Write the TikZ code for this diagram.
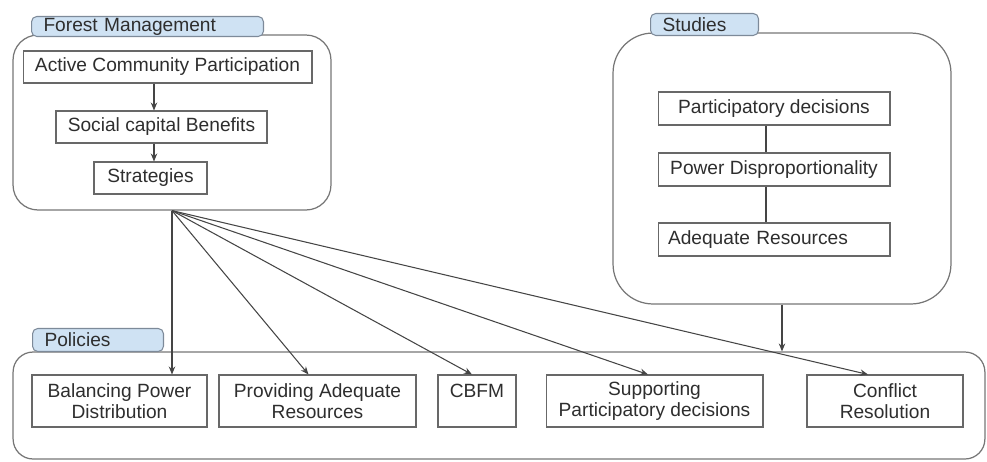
\documentclass[tikz,border=0pt]{standalone}
\usepackage{fontspec}
\setmainfont{Liberation Sans}
\usetikzlibrary{arrows.meta,positioning,calc}
\definecolor{cpestana}{HTML}{CFE2F3}
\definecolor{cpestanab}{HTML}{7D8A99}
\definecolor{cmarco}{HTML}{767676}
\definecolor{cborde}{HTML}{686868}
\definecolor{ctexto}{HTML}{2E2E2E}
\definecolor{cflecha}{HTML}{454545}
\tikzset{
  marco/.style={draw=cmarco,line width=0.7pt,fill=none},
  pestana/.style={draw=cpestanab,fill=cpestana,rounded corners=3pt,line width=0.6pt,
                  anchor=south west,inner xsep=0.24cm,inner ysep=0pt,align=left,
                  font=\fontsize{10.9}{12}\selectfont,text=ctexto},
  caja/.style={draw=cborde,fill=white,line width=0.6pt,align=center,inner sep=2pt,
               font=\fontsize{10.9}{11.6}\selectfont,text=ctexto},
  flecha/.style={-{Stealth[length=1.6mm,width=1.3mm]},draw=cflecha,line width=0.6pt},
  linea/.style={draw=cflecha,line width=0.6pt},
}
\begin{document}
\begin{tikzpicture}[x=0.02cm,y=-0.02cm]
\useasboundingbox (0,0) rectangle (987,461);

% contenedores
\node[marco,rounded corners=0.5cm,minimum width=6.36cm,minimum height=3.5cm] (fm) at (172,122.5) {};
\node[marco,rounded corners=0.8cm,minimum width=6.76cm,minimum height=5.42cm] (es) at (782,168.5) {};
\node[marco,rounded corners=0.4cm,minimum width=19.44cm,minimum height=2.14cm] (pol) at (499,405.5) {};

\node[pestana,text width=4.16cm,minimum height=0.4cm] (tfm) at (31,37) {Forest Management};
\node[pestana,text width=1.68cm,minimum height=0.44cm] (tes) at (650,36) {Studies};
\node[pestana,text width=2.14cm,minimum height=0.46cm] (tpol) at (32,352) {Policies};

% Forest Management
\node[caja,minimum width=5.78cm,minimum height=0.64cm] (acp) at (167.5,67) {Active Community Participation};
\node[caja,minimum width=4.22cm,minimum height=0.64cm] (scb) at (161.5,127) {Social capital Benefits};
\node[caja,minimum width=2.26cm,minimum height=0.64cm] (str) at (150.5,178) {Strategies};

\draw[flecha] ([xshift=0.07cm]acp.south -| str.north) -- ([xshift=0.07cm]scb.north -| str.north);
\draw[flecha] ([xshift=0.07cm]scb.south -| str.north) -- ([xshift=0.07cm]str.north);

% Studies
\node[caja,minimum width=4.64cm,minimum height=0.66cm] (pdec) at (774,108.5) {Participatory decisions};
\node[caja,minimum width=4.64cm,minimum height=0.66cm] (pdis) at (774,169.5) {Power Disproportionality};
\node[caja,text width=4.24cm,inner xsep=0.2cm,align=left,minimum height=0.66cm] (ares) at (774,239.5) {Adequate Resources};

\draw[linea] ([xshift=-0.16cm]pdec.south) -- ([xshift=-0.16cm]pdis.north);
\draw[linea] ([xshift=-0.16cm]pdis.south) -- ([xshift=-0.16cm]ares.north);

% Policies
\node[caja,minimum width=3.5cm,minimum height=1.04cm] (bpd) at (119.5,401) {Balancing Power\\Distribution};
\node[caja,minimum width=3.94cm,minimum height=1.04cm] (par) at (317.5,401) {Providing Adequate\\Resources};
\node[caja,minimum width=1.56cm,minimum height=1.04cm] (cbfm) at (477,401) {CBFM\\~};
\node[caja,minimum width=4.34cm,minimum height=1.04cm] (spd) at (654.5,401) {Supporting\\Participatory decisions};
\node[caja,minimum width=3.12cm,minimum height=1.04cm] (cres) at (885,401) {Conflict\\Resolution};

\draw[flecha] (fm.south) -- (bpd.north -| fm.south);
\draw[flecha] (fm.south) -- ([xshift=-0.18cm]par.north);
\draw[flecha] (fm.south) -- ([xshift=-0.1cm]cbfm.north);
\draw[flecha] (fm.south) -- ([xshift=-0.13cm]spd.north);
\draw[flecha] (fm.south) -- ([xshift=-0.34cm]cres.north);

\draw[flecha] (es.south) -- (pol.north -| es.south);

\end{tikzpicture}
\end{document}
